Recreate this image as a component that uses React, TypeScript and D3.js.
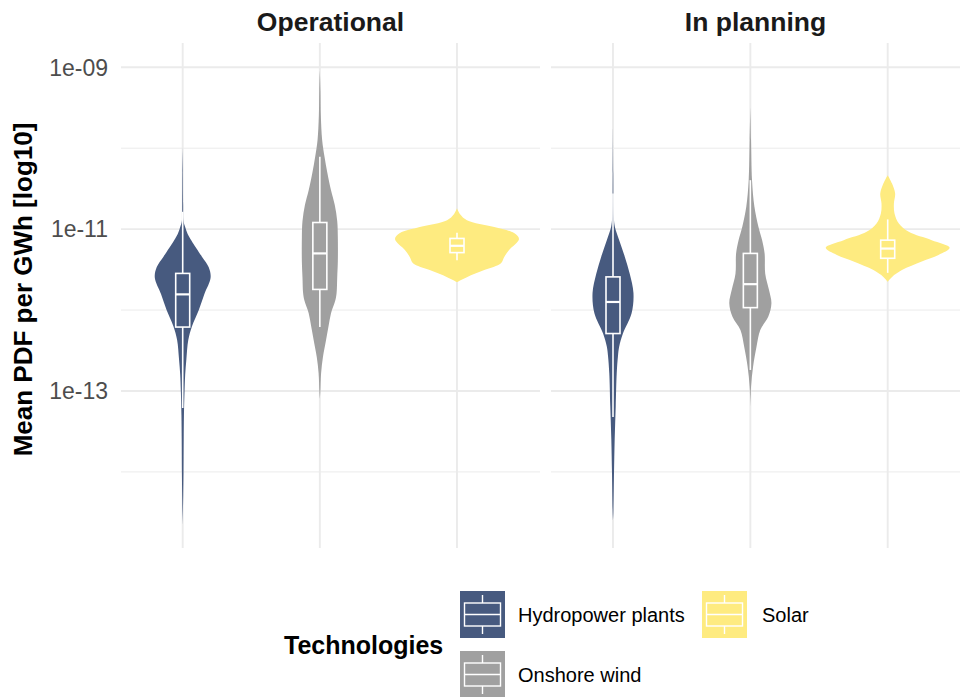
import React from "react";
import * as d3 from "d3";

// ---------- data ----------
const statuses = ["Operational", "In planning"];
const technologies = ["Hydropower plants", "Onshore wind", "Solar"];
const techColors = ["#475A7F", "#A0A0A0", "#FEEB80"];
const majorTicks = [-9, -11, -13]; // log10 exponents
const minorTicks = [-10, -12, -14];
const tickLabels = ["1e-09", "1e-11", "1e-13"];

// violin profiles: log10 value, relative density (0-100)
const hydroOpLog = [-9.99, -10.3, -10.7, -10.9, -10.975, -11.06, -11.14, -11.34, -11.47, -11.6, -11.8, -12.0, -12.2, -12.37, -12.6, -12.8, -13.0, -13.3, -13.6, -14.0, -14.3, -14.65];
const hydroOpDen = [0, 0.4, 0.7, 1.3, 4, 8, 14, 31, 42, 45, 35, 26, 15, 9, 6, 4, 3, 2, 1.6, 1.3, 0.8, 0];
const windOpLog = [-9.04, -9.3, -9.6, -9.9, -10.11, -10.3, -10.52, -10.7, -10.9, -11.1, -11.4, -11.6, -11.79, -11.88, -12.04, -12.2, -12.37, -12.58, -12.78, -13.0, -13.1];
const windOpDen = [0, 1, 1.6, 3.7, 7.6, 12, 18, 24, 28, 29, 29, 28, 27, 25, 18, 14, 10, 5, 2, 0.8, 0];
const solarOpLog = [-10.741, -10.815, -10.889, -10.975, -11.049, -11.123, -11.259, -11.346, -11.42, -11.506, -11.593, -11.654];
const solarOpDen = [0, 5, 16, 60, 92, 100, 84, 76, 71, 44, 16, 0];
const hydroPlLog = [-9.737, -10.31, -10.85, -10.97, -11.136, -11.34, -11.55, -11.79, -12.04, -12.29, -12.45, -12.57, -12.78, -13.19, -13.6, -14.02, -14.51, -14.6];
const hydroPlDen = [0, 0.4, 1.3, 3, 10, 19, 27, 33, 30, 16, 10, 8, 6, 4.4, 2.7, 1.6, 0.5, 0];
const windPlLog = [-9.49, -9.9, -10.395, -10.72, -10.97, -11.136, -11.3, -11.55, -11.75, -11.917, -12.08, -12.247, -12.45, -12.7, -12.95, -13.2];
const windPlDen = [0, 1.1, 2.7, 6.5, 13, 19, 23, 24, 30, 34, 29, 16, 10, 4.4, 1.1, 0];
const solarPlLog = [-10.333, -10.436, -10.56, -10.683, -10.807, -10.93, -11.033, -11.136, -11.23, -11.32, -11.4, -11.506, -11.59, -11.65];
const solarPlDen = [0, 7, 12, 10, 11, 18, 34, 71, 100, 82, 55, 23, 7, 0];

// box stats (log10): whisker low, q1, median, q3, whisker high
const hydroOpBox = [-13.21, -12.21, -11.806, -11.547, -10.786];
const windOpBox = [-12.21, -11.745, -11.3, -10.918, -10.107];
const solarOpBox = [-11.383, -11.29, -11.206, -11.115, -11.045];
const hydroPlBox = [-13.32, -12.29, -11.9, -11.59, -10.56];
const windPlBox = [-12.74, -11.97, -11.68, -11.3, -10.395];
const solarPlBox = [-11.54, -11.36, -11.24, -11.136, -10.88];

const violins = [
  [
    { log: hydroOpLog, den: hydroOpDen, box: hydroOpBox },
    { log: windOpLog, den: windOpDen, box: windOpBox },
    { log: solarOpLog, den: solarOpDen, box: solarOpBox },
  ],
  [
    { log: hydroPlLog, den: hydroPlDen, box: hydroPlBox },
    { log: windPlLog, den: windPlDen, box: windPlBox },
    { log: solarPlLog, den: solarPlDen, box: solarPlBox },
  ],
];

// ---------- layout ----------
const W = 960;
const H = 697;
const panelTop = 43;
const panelBottom = 548;
const panels = [
  { x0: 121, x1: 540, c0: 182.7, c1: 457 },
  { x0: 551, x1: 960, c0: 613, c1: 887.7 },
];
const FONT = "'Liberation Sans', Arial, Helvetica, sans-serif";

const y = d3
  .scaleLog()
  .domain([Math.pow(10, -14.94), Math.pow(10, -8.7)])
  .range([panelBottom, panelTop]);
const halfW = d3.scaleLinear().domain([0, 100]).range([0, 62]);
const boxHalf = 7;

export default function App() {
  return (
    <svg
      width={W}
      height={H}
      viewBox={`0 0 ${W} ${H}`}
      style={{ position: "absolute", left: 0, top: 0, display: "block", background: "#fff" }}
      fontFamily={FONT}
    >
      <rect x={0} y={0} width={W} height={H} fill="#fff" />
      {panels.map((p, pi) => {
        const x = d3.scalePoint().domain(technologies).range([p.c0, p.c1]);
        return (
          <g key={pi}>
            {minorTicks.map((t) => (
              <line key={"mi" + t} x1={p.x0} x2={p.x1} y1={y(Math.pow(10, t))} y2={y(Math.pow(10, t))} stroke="#EBEBEB" strokeWidth={1} />
            ))}
            {majorTicks.map((t) => (
              <line key={"ma" + t} x1={p.x0} x2={p.x1} y1={y(Math.pow(10, t))} y2={y(Math.pow(10, t))} stroke="#EBEBEB" strokeWidth={1.9} />
            ))}
            {technologies.map((tech) => (
              <line key={"v" + tech} x1={x(tech)} x2={x(tech)} y1={panelTop} y2={panelBottom} stroke="#EBEBEB" strokeWidth={1.9} />
            ))}
            <text x={(p.x0 + p.x1) / 2} y={31} textAnchor="middle" fontWeight="bold" fontSize={26.5} fill="#1A1A1A">
              {statuses[pi]}
            </text>
            {technologies.map((tech, ti) => {
              const v = violins[pi][ti];
              const cx = x(tech) as number;
              const pts = v.log.map((l, i) => ({ l, d: v.den[i] }));
              const area = d3
                .area<{ l: number; d: number }>()
                .y((d) => y(Math.pow(10, d.l)))
                .x0((d) => cx - halfW(d.d))
                .x1((d) => cx + halfW(d.d))
                .curve(d3.curveCatmullRom.alpha(0.5));
              const [wl, q1, med, q3, wh] = v.box.map((b) => y(Math.pow(10, b)));
              const col = techColors[ti];
              return (
                <g key={tech}>
                  <path d={area(pts) || ""} fill={col} stroke="none" />
                  <line x1={cx} x2={cx} y1={wh} y2={q3} stroke="#fff" strokeWidth={1.6} />
                  <line x1={cx} x2={cx} y1={q1} y2={wl} stroke="#fff" strokeWidth={1.6} />
                  <rect x={cx - boxHalf} y={q3} width={boxHalf * 2} height={q1 - q3} fill={col} stroke="#fff" strokeWidth={1.6} />
                  <line x1={cx - boxHalf} x2={cx + boxHalf} y1={med} y2={med} stroke="#fff" strokeWidth={2.2} />
                </g>
              );
            })}
          </g>
        );
      })}
      {majorTicks.map((t, i) => (
        <text key={"tl" + t} x={108} y={y(Math.pow(10, t))} dy="0.36em" textAnchor="end" fontSize={23} fill="#4D4D4D">
          {tickLabels[i]}
        </text>
      ))}
      <text
        transform={`translate(32, ${(panelTop + panelBottom) / 2 - 6}) rotate(-90)`}
        textAnchor="middle"
        fontWeight="bold"
        fontSize={26}
        fill="#000"
      >
        Mean PDF per GWh [log10]
      </text>
      {/* legend */}
      <text x={284} y={654} fontWeight="bold" fontSize={25} fill="#000">
        Technologies
      </text>
      {[
        { ti: 0, kx: 460, ky: 591, tx: 518 },
        { ti: 1, kx: 460, ky: 651, tx: 518 },
        { ti: 2, kx: 702, ky: 591, tx: 762 },
      ].map(({ ti, kx, ky, tx }) => {
        const kw = 45;
        const kh = 47;
        const cx = kx + kw / 2;
        return (
          <g key={"lg" + ti}>
            <rect x={kx} y={ky} width={kw} height={kh} fill={techColors[ti]} />
            <line x1={cx} x2={cx} y1={ky + 4} y2={ky + 12} stroke="#fff" strokeWidth={1.4} />
            <line x1={cx} x2={cx} y1={ky + kh - 12} y2={ky + kh - 4} stroke="#fff" strokeWidth={1.4} />
            <rect x={kx + 4.5} y={ky + 12} width={kw - 9} height={kh - 24} fill="none" stroke="#fff" strokeWidth={1.4} />
            <line x1={kx + 4.5} x2={kx + kw - 4.5} y1={ky + kh / 2} y2={ky + kh / 2} stroke="#fff" strokeWidth={1.4} />
            <text x={tx} y={ky + kh / 2} dy="0.36em" fontSize={20} fill="#000">
              {technologies[ti]}
            </text>
          </g>
        );
      })}
    </svg>
  );
}
